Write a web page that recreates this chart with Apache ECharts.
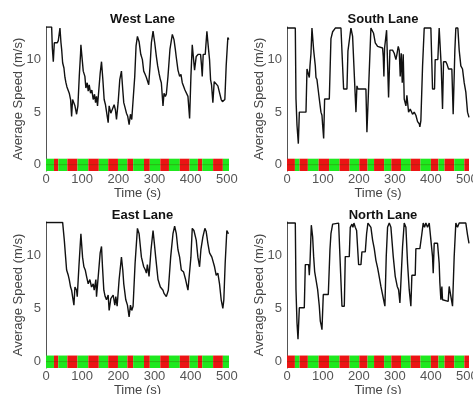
<!DOCTYPE html>
<html><head><meta charset="utf-8">
<script src="https://cdn.jsdelivr.net/npm/echarts@6/dist/echarts.min.js"></script>
<style>html,body{margin:0;padding:0;background:#fff}#c{width:473px;height:394px}</style>
</head><body><div id="c"></div>
<script>
// ---- data ----
const laneNames = ['West Lane', 'South Lane', 'East Lane', 'North Lane'];
const xTicks = [0, 100, 200, 300, 400, 500];
const yTicks = [0, 5, 10];
const xName = 'Time (s)';
const yName = 'Average Speed (m/s)';

const westSpeed = [[0,13.1],[15.6,13.1],[17.5,11.1],[20.2,9.8],[23,11.6],[27.6,11.5],[31.3,11.6],[34,11.8],[38.6,13.0],[41.4,11.6],[43.2,11.0],[46,9.7],[49.6,9.2],[52.4,8.3],[55.1,7.8],[57.9,7.4],[61.6,7.3],[64.3,6.8],[68,6.2],[70.8,4.6],[73.5,6.2],[75.4,6.3],[80,5.6],[84.6,4.8],[88.2,5.6],[92,8.4],[95.6,10.6],[96.5,11.4],[99.3,10.3],[103,8.9],[107.5,8.4],[110.3,7.3],[114,7.8],[116.7,7.0],[119.5,7.6],[123.2,6.8],[126.8,7.1],[130.5,6.2],[134.2,6.7],[137,5.9],[139.7,6.5],[142.5,5.6],[146,7.1],[149.8,8.7],[153.5,9.8],[157.2,8.1],[160.8,6.2],[164.5,5.7],[167.3,5.6],[171.9,4.0],[174.6,5.6],[179.2,4.9],[183.8,4.8],[188.4,5.7],[192,5.2],[194.9,4.3],[199.4,5.9],[204,8.1],[208.6,8.9],[212.3,7.1],[215,5.9],[218.8,5.4],[222.4,4.9],[226,4.6],[229.8,3.8],[233.5,4.8],[237.1,4.3],[240.8,4.4],[245.4,8.4],[249,11.3],[252.8,12.2],[257.4,11.7],[262,10.5],[266.5,10.0],[270.2,8.9],[274,8.6],[277.6,8.3],[281.3,8.4],[284,7.6],[287.7,9.4],[291.4,11.6],[296,12.7],[300.6,11.6],[305.1,10.3],[308.8,9.4],[312.5,8.7],[316.2,8.1],[318.9,7.8],[323.5,5.6],[326.3,6.8],[330,6.5],[332.7,6.7],[337.3,8.4],[342.8,11.0],[349.3,12.4],[353.9,11.9],[357.5,11.0],[360.3,10.2],[364.9,9.0],[369.5,8.4],[373.2,8.6],[376.8,7.8],[380.5,7.9],[384.2,7.1],[387.9,7.0],[392.5,6.5],[397.1,4.4],[400.7,8.4],[404.4,11.4],[408.1,10.0],[410.8,9.0],[415.4,10.3],[421,10.5],[427.4,10.5],[430.1,9.4],[432,8.4],[434.7,10.5],[440.3,10.5],[444.9,12.7],[448.5,11.3],[452.2,10.0],[455,8.1],[457.7,7.6],[461.4,5.9],[465.1,7.9],[470.6,7.9],[475.2,7.5],[479.8,7.6],[484.4,6.2],[488,6.0],[490.8,5.9],[494.5,6.2],[498.2,9.4],[502.8,12.1],[505.5,11.9]];

const southSpeed = [[0,13.0],[23.1,13.0],[25,6.25],[27.8,3.75],[31.5,2.0],[34.3,5.0],[52.8,5.0],[55.6,9.1],[60.2,9.1],[62,8.3],[63.9,9.4],[66.7,10.6],[69.4,13.0],[74.1,10.9],[78.7,9.4],[80.6,8.3],[83.3,8.1],[86.1,7.3],[89.8,6.25],[94.4,5.0],[97.2,4.7],[99.1,3.75],[101.9,2.5],[104.6,6.25],[117.6,6.25],[122.2,12.0],[126.9,12.65],[130.6,12.8],[134.3,13.0],[150,13.0],[157.4,7.2],[166.7,7.2],[169.4,10.8],[173.1,10.8],[177.8,13.0],[182.4,12.2],[191.7,5.0],[194.4,7.5],[197.2,7.2],[219.4,7.2],[222.2,3.1],[233.3,13.0],[238,13.0],[240.7,12.5],[245.4,11.6],[251.9,11.25],[256.5,11.1],[265.7,11.1],[267.6,10.3],[269.4,8.4],[271.3,11.1],[276.9,12.8],[282.4,6.4],[286.1,10.9],[293.5,10.9],[298.1,10.6],[302.8,10.0],[305.6,10.5],[309.3,11.25],[312,10.9],[314.8,8.4],[317.6,10.6],[320.4,7.8],[323.1,10.5],[325.9,6.25],[330.6,5.6],[333.3,6.6],[338,5.0],[342.6,5.3],[349.1,4.8],[353.7,5.0],[358.3,4.7],[363,4.1],[367.6,3.9],[369.4,3.6],[372.2,4.2],[376.9,9.4],[381.5,13.0],[400,13.0],[404.6,7.2],[410.2,7.2],[412,10.0],[419.4,10.0],[423.1,13.0],[428.7,9.4],[432.4,5.3],[435.2,9.8],[441.7,9.8],[445.4,9.5],[449.1,9.1],[458.3,9.1],[462,4.8],[466.7,10.9],[469.4,13.0],[475,13.0],[478.7,10.9],[483.3,9.4],[488,9.1],[492.6,7.8],[497.2,6.9],[501.9,5.0],[506,4.5]];

const eastSpeed = [[0,13.06],[46,13.06],[50.6,11.4],[54.2,9.8],[57,8.6],[61.6,8.1],[64.3,7.7],[68,7.0],[70.8,6.7],[73.5,6.1],[77.2,5.3],[80,7.0],[84.6,6.7],[86.4,6.1],[91,8.9],[96.5,12.0],[101.1,9.8],[104.8,8.9],[108.5,8.6],[112.1,8.0],[116.7,7.3],[121.3,7.7],[125.9,7.0],[130.5,7.3],[133.3,6.7],[137.9,7.7],[139.7,6.1],[145.2,8.3],[149.8,10.2],[153.5,10.8],[156.2,8.9],[159.9,6.7],[163.6,6.1],[167.3,5.8],[171.9,6.25],[174.6,4.8],[179.2,5.9],[185.7,6.25],[190.3,5.3],[193,6.1],[196.7,5.2],[202.2,7.7],[208.6,9.8],[212.3,8.6],[215,7.3],[220.6,5.8],[225.2,5.3],[229.8,4.2],[233.5,5.3],[237.1,4.8],[240.8,5.2],[246.3,9.2],[252.8,12.5],[257.4,12.0],[263.8,9.8],[270.2,8.9],[274.8,8.6],[277.6,8.3],[280.3,9.1],[284.9,8.0],[290.4,10.5],[296,12.3],[299.6,11.1],[303.3,9.8],[309.7,7.7],[316.2,7.0],[323.5,6.7],[326.3,6.4],[332.7,6.1],[338.2,6.7],[344.7,9.8],[351.1,12.0],[355.7,12.7],[360.3,12.0],[364.9,10.5],[369.5,9.8],[374.1,8.6],[380.5,8.4],[386,7.7],[392.5,6.7],[397.1,6.6],[400.7,9.8],[404.4,12.5],[409,12.3],[415.4,11.4],[420,9.8],[424.6,8.9],[428.3,10.5],[433.8,11.7],[439.3,12.5],[443,12.2],[447.6,11.1],[452.2,10.2],[458.6,9.8],[466,8.9],[470.6,8.1],[475.2,8.3],[479.8,7.3],[484.4,5.8],[489,5.0],[491.7,5.8],[495.4,9.2],[500,12.3],[504.6,12.0]];

const northSpeed = [[0,13.0],[23.1,13.0],[25,6.75],[27.8,3.65],[30.6,2.1],[34.3,5.05],[48.1,5.05],[50.9,9.1],[60.2,9.1],[62,8.1],[63.9,9.2],[67.6,12.8],[71.3,11.7],[74.1,9.85],[76.9,8.45],[80.6,8.3],[85.2,6.75],[89.8,5.2],[92.6,3.8],[95.4,3.35],[97.2,3.0],[100.9,6.3],[114.8,6.3],[119.4,10.5],[122.2,12.0],[126.9,12.9],[131.5,13.0],[143.5,13.0],[149.1,8.3],[152.8,5.2],[159.3,5.2],[162,9.85],[173.1,9.85],[175.9,12.6],[180.6,12.9],[183.3,12.6],[186.1,13.0],[189.8,12.6],[193.5,12.3],[199.1,9.1],[205.6,9.1],[208.3,10.3],[217.6,10.3],[221.3,12.0],[225,13.0],[228.7,13.0],[233.3,12.6],[238,11.4],[242.6,10.6],[247.2,9.5],[251.9,8.8],[254.6,8.3],[261.1,7.05],[265.7,6.9],[270.4,5.5],[272.2,5.2],[275.9,9.85],[279.6,12.6],[284.3,13.0],[288.9,12.6],[295.4,9.85],[300.9,8.0],[306.5,7.05],[310.2,6.75],[313.9,5.5],[315.7,6.75],[321.3,10.8],[325.9,13.0],[330.6,12.6],[335.2,9.2],[339.8,6.75],[344.4,5.2],[347.2,8.1],[356.5,8.1],[358.3,10.6],[369.4,10.6],[375,12.0],[378.7,13.0],[382.4,12.6],[386.1,13.0],[390.7,12.6],[395.4,13.0],[400,13.0],[404.6,9.85],[406.5,8.3],[409.3,11.1],[418.5,11.1],[423.1,9.2],[425,7.4],[427.8,5.8],[430.6,7.05],[432.4,5.8],[437,5.65],[448.1,5.65],[450.9,7.05],[455.6,7.05],[460.2,5.2],[464.8,9.85],[469.4,13.0],[474.1,12.6],[478.7,13.0],[497.2,13.0],[501.9,11.9],[506,11.1]];

// signal phase boundaries (s) and the colour of the first phase
const westEastEdges = [0,22,34,59,87,117,146,172,199,225,241,271,287,316,340,370,397,420,432,462,489,506];
const southNorthEdges = [0,22,35,58,88,117,146,174,201,224,242,270,290,317,344,371,400,421,438,465,493,506];
const westEastFirst = 'green';
const southNorthFirst = 'red';

// ---- build ----
const GREEN = '#1ee81e', RED = '#eb1414';
const Y_MIN = -0.6, Y_MAX = 13.1, X_MAX = 506;
const BAR_TOP = 0.57;

function phases(edges, first) {
  const out = [];
  for (let i = 0; i < edges.length - 1; i++) {
    const isFirst = i % 2 === 0;
    const col = isFirst ? first : (first === 'green' ? 'red' : 'green');
    out.push([edges[i], edges[i + 1], col === 'green' ? 0 : 1]);
  }
  return out;
}

const panels = [
  { name: laneNames[0], data: westSpeed, ph: phases(westEastEdges, westEastFirst) },
  { name: laneNames[1], data: southSpeed, ph: phases(southNorthEdges, southNorthFirst) },
  { name: laneNames[2], data: eastSpeed, ph: phases(westEastEdges, westEastFirst) },
  { name: laneNames[3], data: northSpeed, ph: phases(southNorthEdges, southNorthFirst) }
];

const gridPos = [
  { left: 46, top: 27, width: 183, height: 144 },
  { left: 287, top: 27, width: 182, height: 144 },
  { left: 46, top: 222, width: 183, height: 146 },
  { left: 287, top: 222, width: 182, height: 146 }
];
const titleTop = [8, 8, 204, 204];

const FONT = '"Liberation Sans", Arial, Helvetica, sans-serif';
const option = {
  animation: false,
  backgroundColor: '#fff',
  textStyle: { fontFamily: FONT },
  title: panels.map((p, i) => ({
    text: p.name,
    left: gridPos[i].left + gridPos[i].width / 2,
    top: titleTop[i],
    textAlign: 'center',
    textStyle: { fontFamily: FONT, fontSize: 13, fontWeight: 'bold', color: '#111' }
  })),
  grid: gridPos.map(g => Object.assign({ containLabel: false, outerBoundsMode: 'none' }, g)),
  xAxis: panels.map((p, i) => ({
    type: 'value', gridIndex: i, min: 0, max: X_MAX,
    axisLine: { show: false },
    axisTick: { show: false },
    splitLine: { show: false },
    axisLabel: { customValues: xTicks, color: '#555', fontSize: 13, margin: 2, fontFamily: FONT },
    name: xName, nameLocation: 'middle', nameGap: 15,
    nameTextStyle: { color: '#444', fontSize: 13, fontFamily: FONT }
  })),
  yAxis: panels.map((p, i) => ({
    type: 'value', gridIndex: i, min: Y_MIN, max: Y_MAX,
    axisLine: { show: true, lineStyle: { color: '#555', width: 1 } },
    axisTick: { show: false },
    splitLine: { show: false },
    axisLabel: { customValues: yTicks, color: '#555', fontSize: 13, margin: 5, fontFamily: FONT },
    name: yName, nameLocation: 'middle', nameGap: 21, nameMoveOverlap: false,
    nameTextStyle: { color: '#444', fontSize: 13, fontFamily: FONT }
  })),
  series: []
};

panels.forEach((p, i) => {
  option.series.push({
    type: 'custom', xAxisIndex: i, yAxisIndex: i, z: 1,
    data: p.ph,
    encode: { x: [0, 1] },
    renderItem: function (params, api) {
      const s = api.value(0), e = api.value(1), c = api.value(2);
      const a = api.coord([s, BAR_TOP]);
      const b = api.coord([e, Y_MIN]);
      const m = api.coord([s, 0]);
      return { type: 'group', children: [
        { type: 'rect', shape: { x: a[0], y: a[1], width: b[0] - a[0], height: b[1] - a[1] },
          style: { fill: c === 0 ? GREEN : RED } },
        { type: 'line', shape: { x1: a[0], y1: m[1], x2: b[0], y2: m[1] },
          style: { stroke: 'rgba(70,60,0,0.3)', lineWidth: 1 } }
      ] };
    }
  });
  option.series.push({
    type: 'line', xAxisIndex: i, yAxisIndex: i, z: 3,
    data: p.data, showSymbol: false, symbol: 'none',
    lineStyle: { color: '#111', width: 1.4 },
    emphasis: { disabled: true }
  });
});

const chart = echarts.init(document.getElementById('c'), null, { renderer: 'canvas' });
chart.setOption(option);
</script>
</body></html>
